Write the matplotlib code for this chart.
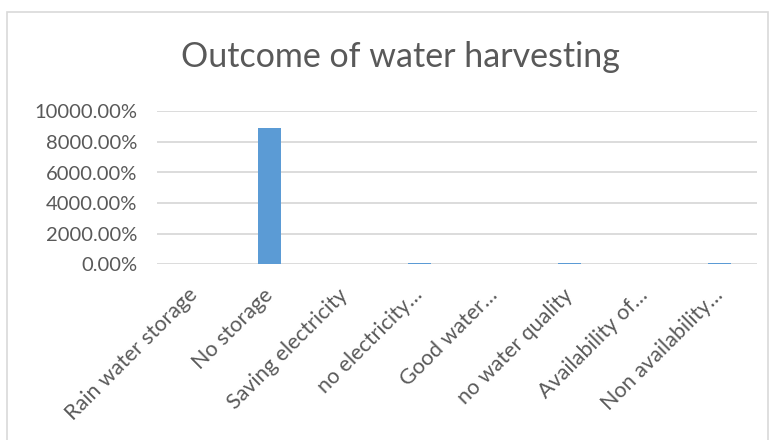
import matplotlib
matplotlib.use('Agg')
import matplotlib.pyplot as plt
from matplotlib.patches import Rectangle
from matplotlib.ticker import PercentFormatter

# chart data (values as fractions, shown as percent)
categories = ['Rain water storage', 'No storage', 'Saving electricity',
              'no electricity\u2026', 'Good water\u2026', 'no water quality',
              'Availability of\u2026', 'Non availability\u2026']
values = [0.0, 88.9, 0.0, 0.5, 0.0, 0.5, 0.0, 0.5]
yticks = [0, 20, 40, 60, 80, 100]

plt.rcParams['font.family'] = ['Lato', 'DejaVu Sans']
text_col = '#595959'
grid_col = '#D9D9D9'

fig = plt.figure(figsize=(7.69, 4.40), dpi=100)
ax = fig.add_axes([157 / 769, 1 - 264 / 440, 600 / 769, (264 - 111.5) / 440])

# outer chart border
fig.patches.append(Rectangle((7 / 769, -0.05), 761 / 769, 1.05 - 12 / 440,
                             transform=fig.transFigure, fill=False,
                             edgecolor=grid_col, linewidth=1.2))

x = range(len(categories))
ax.bar(x, values, width=0.30, color='#5B9BD5', zorder=3)

ax.set_xlim(-0.5, len(categories) - 0.5)
ax.set_ylim(0, 100)
ax.set_yticks(yticks)
ax.yaxis.set_major_formatter(PercentFormatter(xmax=1, decimals=2))
ax.yaxis.grid(True, color=grid_col, linewidth=1.3, zorder=0)
for s in ax.spines.values():
    s.set_visible(False)
ax.tick_params(axis='both', length=0, labelcolor=text_col)
ax.tick_params(axis='y', pad=14, labelsize=14.5)
ax.set_xticks(list(x))
ax.set_xticklabels(categories, rotation=45, ha='right', va='center',
                   rotation_mode='anchor')
ax.tick_params(axis='x', pad=20, labelsize=15.5)

fig.text(400 / 769, 1 - 57 / 440, 'Outcome of water harvesting', ha='center',
         va='center', fontsize=24.5, color=text_col)

fig.savefig('out.png', dpi=100)
